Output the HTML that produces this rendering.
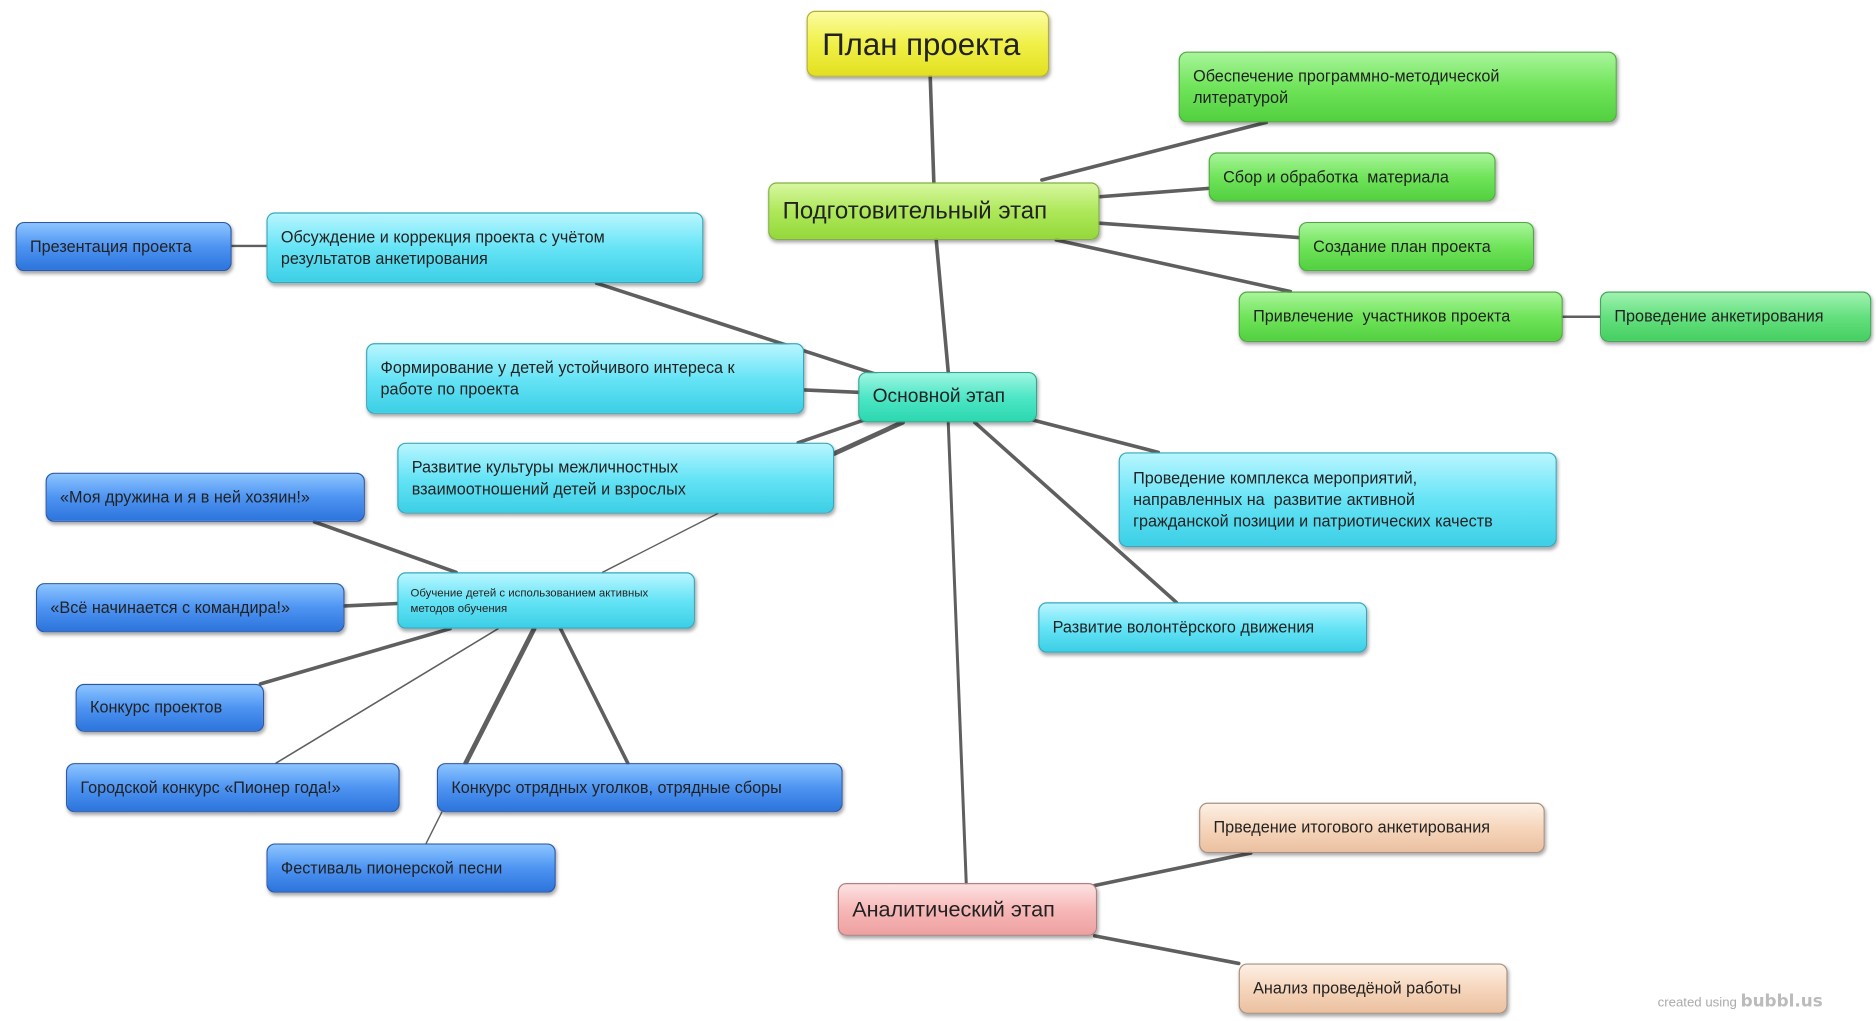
<!DOCTYPE html>
<html><head><meta charset="utf-8"><style>
html,body{margin:0;padding:0;background:#fff;}
body{width:1876px;height:1021px;overflow:hidden;position:relative;}
#w{position:absolute;left:0;top:0;width:1563px;height:851px;transform:scale(1.2003,1.1998);transform-origin:0 0;font-family:"Liberation Sans","DejaVu Sans",sans-serif;}
svg{position:absolute;left:0;top:0;}
.b{position:absolute;box-sizing:border-box;border-radius:7px;border:1px solid;color:#222;font-size:13.5px;line-height:18px;padding:0 11px;display:flex;align-items:center;box-shadow:1px 2px 3px rgba(0,0,0,.35);}
.y{background:linear-gradient(#fbfca0,#f0f048 50%,#e3e020);border-color:#b5b030;}
.lg{background:linear-gradient(#d8f7a0,#aee85a 50%,#94d83a);border-color:#80b040;}
.g{background:linear-gradient(#a8f59a,#70e45a 50%,#52d040);border-color:#50a840;}
.gg{background:linear-gradient(#9ff2b0,#64e07e 50%,#46cf62);border-color:#40a858;}
.t{background:linear-gradient(#9ff6e2,#4ee6c6 50%,#2cd8b0);border-color:#30a890;}
.c{background:linear-gradient(#b8f6ff,#66e4f6 50%,#3ccfe6);border-color:#35a8bc;}
.bl{background:linear-gradient(#8cc4ff,#4d94f2 50%,#2d74dc);border-color:#2a58a8;}
.p{background:linear-gradient(#fde2e2,#f7b8b8 50%,#eea0a0);border-color:#b08080;}
.pe{background:linear-gradient(#fdf0e4,#f6d6bc 50%,#ebc0a0);border-color:#a89080;}
.n{white-space:nowrap;}
</style></head><body><div id="w">
<svg width="1563" height="851" stroke="#5f5f5f" stroke-linecap="round">
<g stroke-width="3">
<line x1="775" y1="64" x2="778" y2="152"/>
<line x1="868" y1="150" x2="1055" y2="102"/>
<line x1="916" y1="164" x2="1007" y2="157"/>
<line x1="916" y1="186" x2="1082" y2="198"/>
<line x1="880" y1="200" x2="1075" y2="243"/>
<line x1="1302" y1="264" x2="1333" y2="264" stroke-width="2"/>
<line x1="780" y1="200" x2="790" y2="310"/>
<line x1="193" y1="205" x2="222" y2="205" stroke-width="2"/>
<line x1="497" y1="236" x2="730" y2="312"/>
<line x1="670" y1="325" x2="715" y2="327"/>
<line x1="665" y1="369" x2="720" y2="350"/>
<line x1="695" y1="378" x2="752" y2="352" stroke-width="4"/>
<line x1="860" y1="350" x2="965" y2="377"/>
<line x1="812" y1="352" x2="980" y2="502" stroke-width="3"/>
<line x1="790" y1="352" x2="805" y2="736" stroke-width="2.5"/>
<line x1="912" y1="738" x2="1042" y2="711"/>
<line x1="912" y1="780" x2="1032" y2="803"/>
<line x1="598" y1="428" x2="502" y2="477" stroke-width="1.2"/>
<line x1="262" y1="435" x2="380" y2="477"/>
<line x1="287" y1="505" x2="331" y2="503"/>
<line x1="217" y1="570" x2="375" y2="524"/>
<line x1="230" y1="636" x2="415" y2="524" stroke-width="1.3"/>
<line x1="388" y1="636" x2="445" y2="524" stroke-width="4"/>
<line x1="523" y1="636" x2="467" y2="524"/>
<line x1="368" y1="677" x2="355" y2="703" stroke-width="1.2"/>
</g></svg>
<div class="b y n" style="left:672px;top:9px;width:202px;height:55px;font-size:26px;line-height:30px;padding-left:12px">План проекта</div>
<div class="b lg n" style="left:640px;top:152px;width:276px;height:48px;font-size:20px">Подготовительный этап</div>
<div class="b g" style="left:982px;top:43px;width:365px;height:59px;padding-right:60px">Обеспечение программно-методической литературой</div>
<div class="b g n" style="left:1007px;top:127px;width:239px;height:41px">Сбор и обработка&nbsp; материала</div>
<div class="b g n" style="left:1082px;top:185px;width:196px;height:41px">Создание план проекта</div>
<div class="b g n" style="left:1032px;top:243px;width:270px;height:42px">Привлечение&nbsp; участников проекта</div>
<div class="b gg n" style="left:1333px;top:243px;width:226px;height:42px">Проведение анкетирования</div>
<div class="b t n" style="left:715px;top:310px;width:149px;height:42px;font-size:16px">Основной этап</div>
<div class="b c" style="left:222px;top:177px;width:364px;height:59px">Обсуждение и коррекция проекта с учётом результатов анкетирования</div>
<div class="b bl n" style="left:13px;top:185px;width:180px;height:41px">Презентация проекта</div>
<div class="b c" style="left:305px;top:286px;width:365px;height:59px">Формирование у детей устойчивого интереса к работе по проекта</div>
<div class="b c" style="left:331px;top:369px;width:364px;height:59px">Развитие культуры межличностных взаимоотношений детей и взрослых</div>
<div class="b c n" style="left:932px;top:377px;width:365px;height:79px"><div>Проведение комплекса мероприятий,<br>направленных на&nbsp; развитие активной<br>гражданской позиции и патриотических качеств</div></div>
<div class="b c n" style="left:865px;top:502px;width:274px;height:42px">Развитие волонтёрского движения</div>
<div class="b c" style="left:331px;top:477px;width:248px;height:47px;font-size:9.5px;line-height:13px;padding-left:10px;padding-right:25px">Обучение детей с использованием активных методов обучения</div>
<div class="b bl n" style="left:38px;top:394px;width:266px;height:41px">«Моя дружина и я в ней хозяин!»</div>
<div class="b bl n" style="left:30px;top:486px;width:257px;height:41px">«Всё начинается с командира!»</div>
<div class="b bl n" style="left:63px;top:570px;width:157px;height:40px">Конкурс проектов</div>
<div class="b bl n" style="left:55px;top:636px;width:278px;height:41px">Городской конкурс «Пионер года!»</div>
<div class="b bl n" style="left:364px;top:636px;width:338px;height:41px">Конкурс отрядных уголков, отрядные сборы</div>
<div class="b bl n" style="left:222px;top:703px;width:241px;height:41px">Фестиваль пионерской песни</div>
<div class="b p n" style="left:698px;top:736px;width:216px;height:44px;font-size:18px">Аналитический этап</div>
<div class="b pe n" style="left:999px;top:669px;width:288px;height:42px">Прведение итогового анкетирования</div>
<div class="b pe n" style="left:1032px;top:803px;width:224px;height:42px">Анализ проведёной работы</div>
<div style="position:absolute;left:1381px;top:827px;font-size:11px;color:#aaa">created using <b style="font-size:14px;color:#bbb;font-family:'DejaVu Sans',sans-serif">bubbl.us</b></div>
</div></body></html>
